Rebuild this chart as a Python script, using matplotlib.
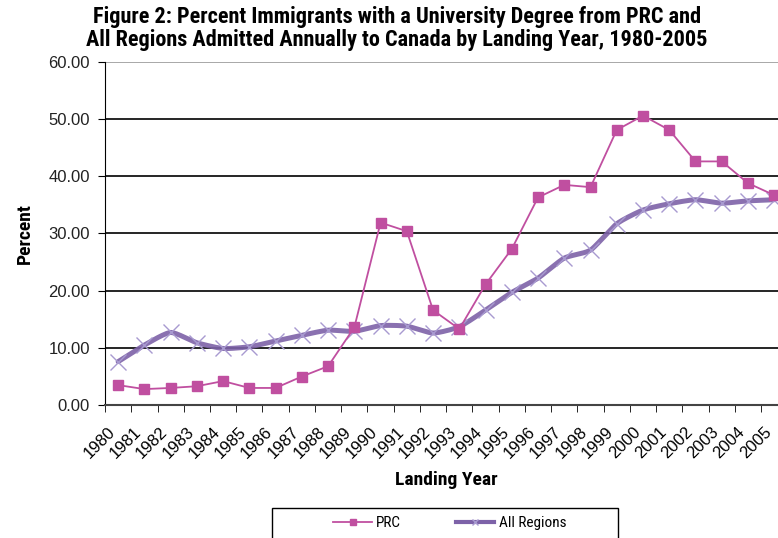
import numpy as np
import matplotlib
matplotlib.use("Agg")
import matplotlib.pyplot as plt
from matplotlib.lines import Line2D
from matplotlib.patches import Rectangle

years = [str(y) for y in range(1980, 2006)]
prc = [3.5, 2.8, 3.0, 3.3, 4.2, 3.0, 3.0, 5.0, 6.8, 13.6, 31.9, 30.4, 16.6, 13.3,
       21.1, 27.3, 36.3, 38.5, 38.1, 48.1, 50.6, 48.1, 42.6, 42.6, 38.8, 36.7]
all_regions = [7.6, 10.5, 12.7, 10.9, 9.9, 10.2, 11.2, 12.2, 13.1, 12.9, 13.9, 13.8, 12.6, 13.7,
               16.6, 19.7, 22.2, 25.7, 27.1, 31.7, 34.1, 35.2, 35.9, 35.3, 35.7, 35.9]

PRC_COLOR = "#c04fa0"
ALL_COLOR = "#7d62a8"
ALL_MARK = "#a89ad0"
NARROW = ["Roboto Condensed", "DejaVu Sans"]
PLAIN = ["Liberation Sans", "DejaVu Sans"]


def smooth(x, y, n=20):
    # Catmull-Rom curve through every point, like a spreadsheet "smoothed line"
    x = np.asarray(x, float)
    y = np.asarray(y, float)
    px = np.concatenate([[2 * x[0] - x[1]], x, [2 * x[-1] - x[-2]]])
    py = np.concatenate([[2 * y[0] - y[1]], y, [2 * y[-1] - y[-2]]])
    t = np.linspace(0, 1, n, endpoint=False)
    xs, ys = [], []
    for i in range(1, len(px) - 2):
        for p, out in ((px, xs), (py, ys)):
            p0, p1, p2, p3 = p[i - 1], p[i], p[i + 1], p[i + 2]
            m1 = (p2 - p0) / 2 * 0.6
            m2 = (p3 - p1) / 2 * 0.6
            h00 = 2 * t**3 - 3 * t**2 + 1
            h10 = t**3 - 2 * t**2 + t
            h01 = -2 * t**3 + 3 * t**2
            h11 = t**3 - t**2
            out.extend(h00 * p1 + h10 * m1 + h01 * p2 + h11 * m2)
    xs.append(x[-1])
    ys.append(y[-1])
    return np.array(xs), np.array(ys)


W, H = 778, 538
fig = plt.figure(figsize=(W / 100, H / 100), dpi=100)
ax = fig.add_axes([0.135, 0.247, 0.877, 0.638])

xpos = np.arange(len(years))
ax.set_xlim(-0.5, len(years) - 0.5)
ax.set_ylim(0, 60)

for v in range(10, 60, 10):
    ax.axhline(v, color="black", lw=1.2, zorder=1)
ax.axhline(60, color="#999999", lw=1.2, zorder=1)

sx, sy = smooth(xpos, all_regions)
ax.plot(sx, sy, color=ALL_COLOR, lw=3.6, alpha=0.9, solid_capstyle="round", zorder=3)
ax.plot(xpos, all_regions, ls="none", marker="x", ms=11, mew=1.0, color=ALL_MARK, zorder=4)

ax.plot(xpos, prc, color=PRC_COLOR, lw=1.3, marker="s", ms=6.5, mec=PRC_COLOR, zorder=5)

ax.set_yticks(range(0, 61, 10))
ax.set_yticklabels([f"{v:.2f}" for v in range(0, 61, 10)], fontsize=12,
                   color="#222222", family=PLAIN)
ax.set_xticks(xpos)
ax.set_xticklabels(years, rotation=45, ha="right", va="top",
                   fontsize=12, family=PLAIN)
ax.set_xticks(np.arange(-0.5, len(years), 1), minor=True)
ax.tick_params(axis="x", which="major", length=0, pad=14)
ax.tick_params(axis="x", which="minor", length=5, direction="out", color="black")
ax.tick_params(axis="y", length=5, direction="out", color="black", pad=6)

for s in ("top", "right"):
    ax.spines[s].set_visible(False)
ax.spines["left"].set_color("black")
ax.spines["bottom"].set_color("#444444")
ax.spines["bottom"].set_linewidth(1.5)

ax.set_ylabel("Percent", fontsize=14, labelpad=10, fontweight="bold", family=NARROW)
ax.set_xlabel("Landing Year", fontsize=14, labelpad=7, fontweight="bold", family=NARROW)

fig.text(0.51, 0.947, "Figure 2: Percent Immigrants with a University Degree from PRC and\n"
         "All Regions Admitted Annually to Canada by Landing Year, 1980-2005",
         ha="center", va="center", fontsize=16, linespacing=1.02,
         fontweight="bold", family=NARROW)

# legend box runs past the bottom edge of the figure
fig.add_artist(Rectangle((272 / W, -0.05), 346 / W, 0.05 + 30 / H, transform=fig.transFigure,
                         fill=False, edgecolor="black", lw=1.0))
handles = [
    Line2D([], [], color=PRC_COLOR, lw=1.3, marker="s", ms=5),
    Line2D([], [], color=ALL_COLOR, lw=3, marker="x", ms=5, mec=ALL_MARK),
]
fig.legend(handles, ["PRC", "All Regions"], loc="center",
           bbox_to_anchor=(450 / W, 1 - 523 / H), ncol=2, frameon=False,
           handlelength=2.5, columnspacing=3.6, handletextpad=0.3, borderaxespad=0,
           prop={"family": NARROW, "size": 11})

fig.savefig("out.png", dpi=100)
